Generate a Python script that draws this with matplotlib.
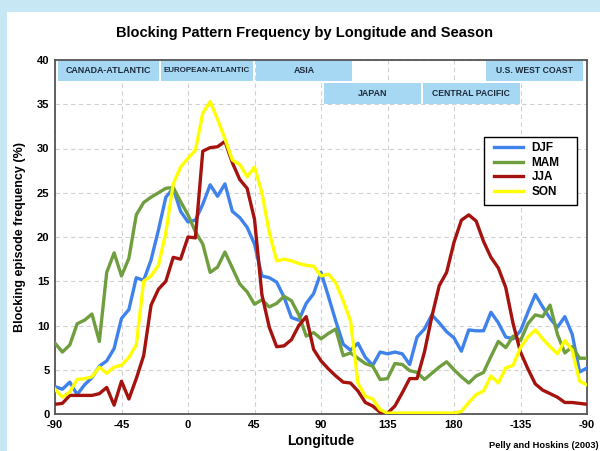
import matplotlib
matplotlib.use("Agg")
import matplotlib.pyplot as plt
from matplotlib.patches import Rectangle

plt.rcParams['font.family'] = ['Liberation Sans', 'DejaVu Sans']

# Longitude sampling (degrees east, -90 .. 270)
lons = list(range(-90, 271, 5))

# Blocking episode frequency (%) per season
djf = [3.1, 2.8, 3.6, 2.2, 3.3, 4.1, 5.4, 6.0, 7.4,
       10.8, 11.8, 15.4, 15.1, 17.4, 20.8, 24.5, 25.5, 22.9,
       21.7, 21.9, 23.7, 25.9, 24.6, 26.0, 22.9, 22.2, 21.1,
       19.2, 15.6, 15.4, 14.9, 13.2, 10.9, 10.6, 12.5, 13.6,
       16.0, 13.3, 10.5, 7.9, 7.2, 8.0, 6.4, 5.5, 7.0,
       6.8, 7.0, 6.8, 5.6, 8.7, 9.6, 11.2, 10.3, 9.3,
       8.6, 7.1, 9.5, 9.4, 9.4, 11.5, 10.3, 8.7, 8.5,
       9.4, 11.5, 13.5, 12.1, 10.8, 9.8, 11.0, 9.0, 4.75,
       5.2]
mam = [8.0, 7.0, 7.8, 10.2, 10.6, 11.3, 8.2, 16.0, 18.2,
       15.6, 17.6, 22.5, 23.9, 24.5, 25.0, 25.5, 25.6, 24.0,
       22.5, 20.6, 19.2, 16.0, 16.6, 18.3, 16.5, 14.7, 13.8,
       12.4, 12.9, 12.1, 12.5, 13.3, 12.8, 11.2, 8.8, 9.2,
       8.5, 9.1, 9.6, 6.6, 6.9, 6.3, 5.7, 5.4, 3.9,
       4.0, 5.7, 5.6, 4.9, 4.7, 3.9, 4.6, 5.3, 5.9,
       5.0, 4.2, 3.5, 4.3, 4.7, 6.5, 8.2, 7.5, 8.8,
       8.3, 10.2, 11.2, 11.0, 12.3, 9.0, 6.9, 7.6, 6.3,
       6.3]
jja = [1.1, 1.2, 2.1, 2.1, 2.1, 2.1, 2.3, 3.0, 1.0,
       3.7, 1.7, 4.0, 6.6, 12.3, 14.1, 15.0, 17.7, 17.5,
       20.0, 19.9, 29.7, 30.1, 30.2, 30.8, 28.4, 26.5, 25.5,
       22.0, 13.5, 9.8, 7.6, 7.7, 8.4, 10.0, 11.0, 7.3,
       6.0, 5.1, 4.3, 3.6, 3.5, 2.6, 1.3, 0.9, 0.2,
       0.1, 0.9, 2.4, 4.0, 4.0, 7.0, 11.0, 14.5, 16.0,
       19.4, 21.9, 22.5, 21.8, 19.5, 17.7, 16.5, 14.3, 10.2,
       7.0, 5.1, 3.4, 2.7, 2.3, 1.9, 1.3, 1.3, 1.2,
       1.1]
son = [2.8, 1.9, 2.5, 3.9, 4.0, 4.2, 5.3, 4.6, 5.3,
       5.5, 6.4, 7.8, 15.0, 15.6, 16.8, 20.5, 26.0, 27.9,
       28.9, 29.8, 34.0, 35.3, 33.3, 31.1, 28.7, 28.2, 26.8,
       27.9, 25.0, 20.5, 17.3, 17.5, 17.3, 17.0, 16.8, 16.7,
       15.6, 15.8, 14.8, 12.8, 10.5, 3.5, 2.0, 1.7, 0.5,
       0.1, 0.1, 0.1, 0.1, 0.1, 0.1, 0.1, 0.1, 0.1,
       0.1, 0.3, 1.3, 2.2, 2.6, 4.3, 3.5, 5.2, 5.5,
       7.5, 8.7, 9.5, 8.5, 7.6, 6.8, 8.3, 7.2, 3.7,
       3.3]

season_names = ['DJF', 'MAM', 'JJA', 'SON']
season_colors = ['#3f82ec', '#6f9e3f', '#a5130f', '#ffff00']

xtick_pos = list(range(-90, 271, 45))
xtick_labels = ['-90', '-45', '0', '45', '90', '135', '180', '-135', '-90']
ytick_pos = list(range(0, 41, 5))

# Geographic sectors annotated along the top of the plot
region_names = ['CANADA-ATLANTIC', 'EUROPEAN-ATLANTIC', 'ASIA',
                'U.S. WEST COAST', 'JAPAN', 'CENTRAL PACIFIC']
region_start = [-88.0, -18.2, 46.0, 201.6, 92.0, 158.8]
region_end = [-19.5, 44.0, 111.0, 267.0, 157.4, 224.6]
region_row = [0, 0, 0, 0, 1, 1]
region_fontsize = [6.4, 5.7, 6.4, 6.2, 6.4, 6.2]
row_bottom = [37.6, 35.0]
row_top = [40.0, 37.4]

fig = plt.figure(figsize=(6.0, 4.51), dpi=100)
fig.patch.set_facecolor('#c8e7f5')
fig.add_artist(Rectangle((7 / 600, 0), 1.0, 1 - 12 / 451,
                         transform=fig.transFigure, facecolor='white',
                         edgecolor='none', zorder=-5))

ax = fig.add_axes([55 / 600, 1 - 414 / 451, 532 / 600, 354 / 451])
ax.set_facecolor('white')

for vals, name, col in zip([djf, mam, jja, son], season_names, season_colors):
    ax.plot(lons, vals, color=col, lw=2.4, label=name, zorder=3)

for name, x0, x1, row, fs in zip(region_names, region_start, region_end,
                                 region_row, region_fontsize):
    y0, y1 = row_bottom[row], row_top[row]
    ax.add_patch(Rectangle((x0, y0), x1 - x0, y1 - y0, facecolor='#a7d8f3',
                           edgecolor='none', zorder=2))
    ax.text((x0 + x1) / 2, (y0 + y1) / 2, name, ha='center', va='center',
            fontsize=fs, fontweight='bold', color='#1c2a3a', zorder=4)

ax.set_xlim(-90, 270)
ax.set_ylim(0, 40)
ax.set_xticks(xtick_pos)
ax.set_xticklabels(xtick_labels)
ax.set_yticks(ytick_pos)
ax.tick_params(length=0, labelsize=8, pad=4, colors='black')
for lbl in ax.get_xticklabels() + ax.get_yticklabels():
    lbl.set_fontweight('bold')

ax.grid(True, linestyle=(0, (4, 3)), color='#d0d0d0', linewidth=0.8, zorder=1)
ax.set_axisbelow(True)
for sp in ax.spines.values():
    sp.set_color('#555555')
    sp.set_linewidth(1.3)

ax.set_xlabel('Longitude', fontsize=10, fontweight='bold', labelpad=3)
ax.set_ylabel('Blocking episode frequency (%)', fontsize=9,
              fontweight='bold', labelpad=8)

# Legend box drawn as its own frame so the padding can be roomier
ax.add_patch(Rectangle((0.806, 0.590), 0.175, 0.193, transform=ax.transAxes,
                       facecolor='white', edgecolor='black', linewidth=1.0,
                       zorder=5))
leg = ax.legend(loc='upper left', bbox_to_anchor=(0.826, 0.768),
                frameon=False, prop={'weight': 'bold', 'size': 8.5},
                handlelength=2.4, labelspacing=0.22, borderpad=0,
                handletextpad=0.75, borderaxespad=0)
leg.set_zorder(6)

fig.text(305 / 600, 1 - 33 / 451,
         'Blocking Pattern Frequency by Longitude and Season',
         ha='center', va='center', fontsize=10.5, fontweight='bold')
fig.text(599 / 600, 1 - 446 / 451, 'Pelly and Hoskins (2003)',
         ha='right', va='center', fontsize=6.7, fontweight='bold')

fig.savefig('out.png', dpi=100, facecolor=fig.get_facecolor())
